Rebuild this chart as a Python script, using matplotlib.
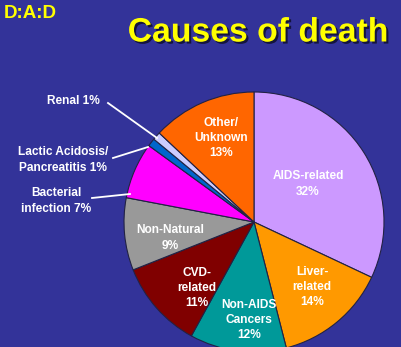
import matplotlib.pyplot as plt
import matplotlib.patheffects as pe

plt.rcParams['font.family'] = ['Liberation Sans', 'DejaVu Sans']

# slices, clockwise from 12 o'clock
causes = ["AIDS-related", "Liver-related", "Non-AIDS Cancers", "CVD-related",
          "Non-Natural", "Bacterial infection", "Lactic Acidosis/Pancreatitis",
          "Renal", "Other/Unknown"]
percent = [32, 14, 12, 11, 9, 7, 1, 1, 13]
colors = ["#CC99FF", "#FF9900", "#009999", "#800000", "#999999",
          "#FF00FF", "#0066CC", "#CCCCFF", "#FF6600"]

W, H = 402, 347
bg = "#333399"

fig = plt.figure(figsize=(W / 100, H / 100), dpi=100, facecolor=bg)
ax = fig.add_axes([0, 0, 1, 1])
ax.set_facecolor(bg)

# pie centre in image pixels (y measured from top)
cx, cy, r = 254, 222, 130
ax.pie(percent, colors=colors, startangle=90, counterclock=False,
       center=(cx, H - cy), radius=r, frame=True,
       wedgeprops=dict(edgecolor="#222244", linewidth=0.8))
ax.set_xlim(0, W)
ax.set_ylim(0, H)
ax.set_aspect('equal')
ax.axis('off')

def img_text(x, y, s, **kw):
    ax.text(x, H - y, s, **kw)

lab = dict(color="white", fontsize=8.6, fontweight="bold", ha="center",
           va="center", linespacing=1.35)

# labels inside the slices
img_text(221, 138, "Other/\nUnknown\n13%", **lab)
img_text(308, 184, "AIDS-related\n32%", **lab)
img_text(312, 287, "Liver-\nrelated\n14%", **lab)
img_text(249, 320, "Non-AIDS\nCancers\n12%", **lab)
img_text(197, 288, "CVD-\nrelated\n11%", **lab)
img_text(170, 238, "Non-Natural\n9%", **lab)

# outside labels with leader lines
img_text(56, 201, "Bacterial\ninfection 7%", **lab)
img_text(63, 160, "Lactic Acidosis/\nPancreatitis 1%", **lab)
img_text(73, 101, "Renal 1%", **lab)
for (x0, y0, x1, y1) in [(92, 198, 130, 194), (113, 158, 148, 147),
                         (108, 103, 157, 138)]:
    ax.plot([x0, x1], [H - y0, H - y1], color="white", lw=1.3)

shadow = [pe.withSimplePatchShadow(offset=(1.5, -1.5), shadow_rgbFace="#111133", alpha=0.9)]
img_text(258, 33, "Causes of death", color="#FFFF00", fontsize=24.3,
         fontweight="bold", ha="center", va="center", path_effects=shadow)
img_text(4, 13, "D:A:D", color="#FFFF00", fontsize=13.5, fontweight="bold",
         ha="left", va="center")

fig.savefig("out.png", dpi=100, facecolor=bg)
